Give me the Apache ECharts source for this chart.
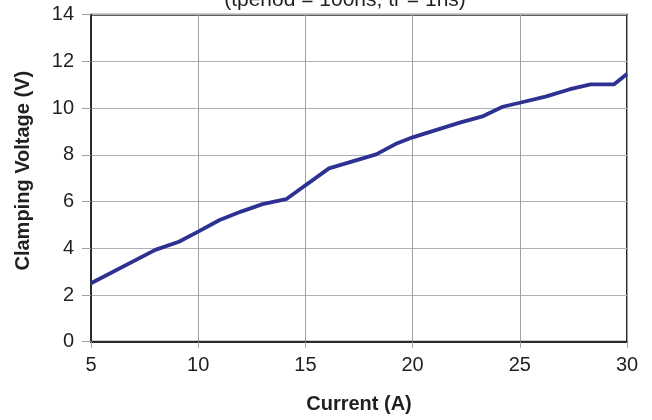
<!DOCTYPE html>
<html>
<head>
<meta charset="utf-8">
<script src="https://cdn.jsdelivr.net/npm/echarts@6/dist/echarts.min.js"></script>
<style>
html,body{margin:0;padding:0;background:#fff;}
#c{width:652px;height:420px;}
</style>
</head>
<body>
<div id="c"></div>
<script>
const currentA = [5, 8, 9.1, 10, 11, 12, 13, 14.1, 16.1, 18.3, 19.2, 20, 22.2, 23.3, 24.2, 25, 26.2, 27.3, 28.3, 29.4, 30];
const clampV  = [2.5, 3.93, 4.28, 4.71, 5.21, 5.57, 5.89, 6.10, 7.42, 8.02, 8.46, 8.75, 9.38, 9.66, 10.06, 10.23, 10.49, 10.8, 11.02, 11.02, 11.46];
const titleText = '(tperiod = 100ns, tr = 1ns)';
const xName = 'Current (A)';
const yName = 'Clamping Voltage (V)';

const chart = echarts.init(document.getElementById('c'), null, {renderer:'canvas'});
const font = '"Liberation Sans", Arial, Helvetica, sans-serif';
chart.setOption({
  animation: false,
  backgroundColor: '#ffffff',
  graphic: [{
    type: 'text',
    style: { x: 345, y: 11, text: titleText, textAlign: 'center', textVerticalAlign: 'bottom',
             font: '21px "Liberation Sans", Arial, sans-serif', fill: '#231f20' }
  }],
  grid: { left: 91, right: 25, top: 14.7, bottom: 78.3, show: true, borderColor: '#2b2b2b', borderWidth: 2, backgroundColor: 'transparent' },
  xAxis: {
    type: 'value', min: 5, max: 30, interval: 5,
    name: xName, nameLocation: 'middle', nameGap: 53,
    nameTextStyle: { fontFamily: font, fontWeight: 'bold', fontSize: 20, color: '#231f20' },
    axisLine: { show: true, lineStyle: { color: '#2b2b2b', width: 2 } },
    axisTick: { show: true, length: 6, lineStyle: { color: '#9ea2a8', width: 1 } },
    axisLabel: { fontFamily: font, fontSize: 20, color: '#231f20', margin: 14 },
    splitLine: { show: true, lineStyle: { color: '#9ea2a8', width: 1 } }
  },
  yAxis: {
    type: 'value', min: 0, max: 14, interval: 2,
    name: yName, nameLocation: 'middle', nameGap: 58,
    nameTextStyle: { fontFamily: font, fontWeight: 'bold', fontSize: 20, color: '#231f20', padding: [0, 0, 0, 15] },
    axisLine: { show: true, lineStyle: { color: '#2b2b2b', width: 2 } },
    axisTick: { show: true, length: 9, lineStyle: { color: '#9ea2a8', width: 1 } },
    axisLabel: { fontFamily: font, fontSize: 20, color: '#231f20', margin: 17 },
    splitLine: { show: true, lineStyle: { color: '#aeb2b6', width: 1.2 } }
  },
  series: [{
    type: 'line',
    data: currentA.map((x, i) => [x, clampV[i]]),
    showSymbol: false,
    lineStyle: { color: '#2e3192', width: 3.8 },
    itemStyle: { color: '#2e3192' }
  }]
});
</script>
</body>
</html>
